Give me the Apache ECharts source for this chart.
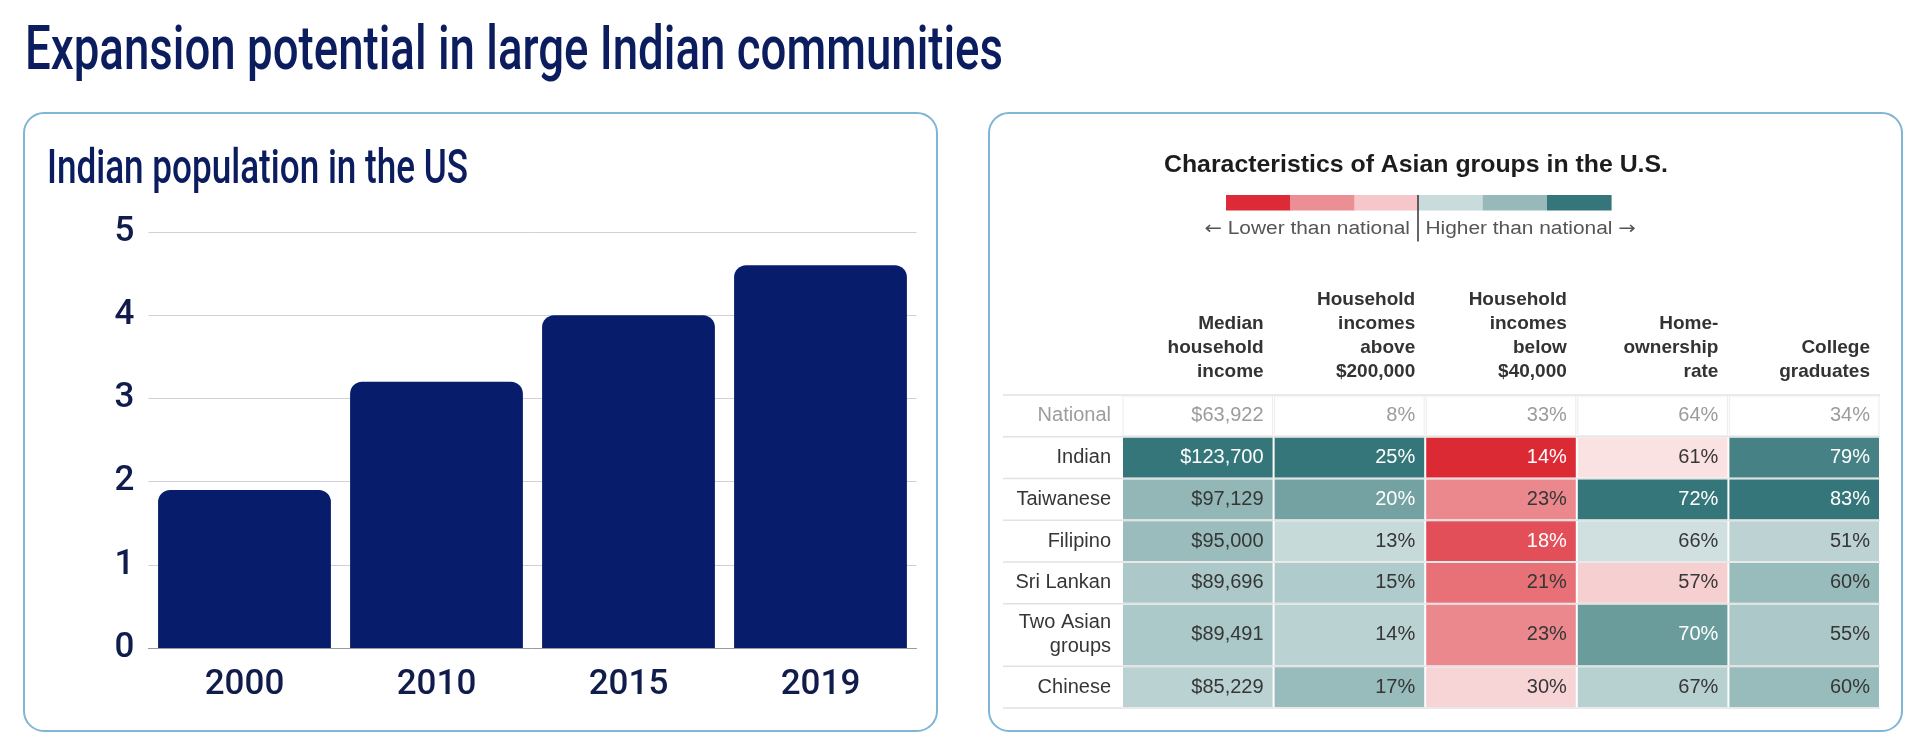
<!DOCTYPE html>
<html>
<head>
<meta charset="utf-8">
<title>Expansion potential in large Indian communities</title>
<script src="https://cdn.jsdelivr.net/npm/echarts@6/dist/echarts.min.js"></script>
<style>
  html, body { margin: 0; padding: 0; background: #fff; }
  #chart { width: 1920px; height: 748px; }
</style>
</head>
<body>
<div id="chart"></div>
<script>
// left panel: Indian population in the US (millions)
const years = ['2000', '2010', '2015', '2019'];
const indianPopulation = [1.9, 3.2, 4.0, 4.6];

// right panel: characteristics of Asian groups
const columnHeaders = [
  'Median\nhousehold\nincome',
  'Household\nincomes\nabove\n$200,000',
  'Household\nincomes\nbelow\n$40,000',
  'Home-\nownership\nrate',
  'College\ngraduates'
];
const groups = ['National', 'Indian', 'Taiwanese', 'Filipino', 'Sri Lankan', 'Two Asian\ngroups', 'Chinese'];
const medianIncome = [63922, 123700, 97129, 95000, 89696, 89491, 85229];
const incomeAbove200k = [8, 25, 20, 13, 15, 14, 17];
const incomeBelow40k = [33, 14, 23, 18, 21, 23, 30];
const homeOwnership = [64, 61, 72, 66, 57, 70, 67];
const collegeGrads = [34, 79, 83, 51, 60, 55, 60];

const tableColumns = [medianIncome, incomeAbove200k, incomeBelow40k, homeOwnership, collegeGrads];

const NAVY = '#0b1d5e';
const HEAVY = "Roboto, 'DejaVu Sans Condensed', sans-serif";
const SANS = "'Liberation Sans', Arial, sans-serif";
const scaleColors = ['#dc2a35', '#e4565f', '#ec8e94', '#f4c4c7', '#fdf0f1', '#d0e0e0', '#9ebfbf', '#6b9c9c', '#34767a'];
const legendColors = ['#dc2a37', '#ec8f95', '#f6c6ca', '#c9dcdc', '#97b9ba', '#35767a'];

const measureCtx = document.createElement('canvas').getContext('2d');
function fitScale(text, font, width) {
  measureCtx.font = font;
  return width / measureCtx.measureText(text).width;
}

function formatCell(col, v) {
  return col === 0 ? '$' + v.toLocaleString('en-US') : v + '%';
}

// relative gap to the national figure, scaled to [-1, 1]
const allRel = [];
tableColumns.forEach(arr => arr.slice(1).forEach(v => allRel.push((v - arr[0]) / arr[0])));
const maxNeg = Math.abs(Math.min(...allRel));
function cellScore(col, row) {
  const arr = tableColumns[col];
  const nat = arr[0];
  const rel = (arr[row] - nat) / nat;
  if (rel >= 0) {
    const maxPos = Math.max(...arr.slice(1).map(v => (v - nat) / nat));
    return rel / maxPos;
  }
  return rel / maxNeg;
}

// row extents (two-line labels get a taller row)
const rowStart = [];
const rowEnd = [];
let acc = 0;
groups.forEach((g, i) => {
  const lines = g.split('\n').length;
  rowStart[i] = acc;
  acc += 1 + 0.5 * (lines - 1);
  rowEnd[i] = acc;
});
const tableUnits = acc;

const cellData = [];
groups.forEach((g, r) => {
  tableColumns.forEach((arr, c) => {
    cellData.push([c, rowStart[r], rowEnd[r], r === 0 ? 0 : cellScore(c, r), r]);
  });
});
const labelData = groups.map((g, r) => [0, rowStart[r], rowEnd[r], r]);
const headerData = columnHeaders.map((h, c) => [c, 0]);

function renderCell(params, api) {
  const col = api.value(0);
  const row = api.value(4);
  const score = api.value(3);
  const p0 = api.coord([col, api.value(1)]);
  const p1 = api.coord([col + 1, api.value(2)]);
  const national = row === 0;
  let textColor = '#363636';
  if (national) textColor = '#9c9c9c';
  else if (score > 0.65 || score < -0.7) textColor = '#ffffff';
  return {
    type: 'group',
    children: [{
      type: 'rect',
      shape: { x: p0[0] + 1, y: p0[1] + 1, width: p1[0] - p0[0] - 2, height: p1[1] - p0[1] - 2 },
      style: national ? { fill: '#ffffff', stroke: '#ececec', lineWidth: 1 } : { fill: api.visual('color') }
    }, {
      type: 'text',
      style: {
        text: formatCell(col, tableColumns[col][row]),
        x: p1[0] - 10,
        y: (p0[1] + p1[1]) / 2,
        align: 'right',
        verticalAlign: 'middle',
        fill: textColor,
        font: '20px ' + SANS
      }
    }]
  };
}

function renderRowLabel(params, api) {
  const row = api.value(3);
  const p0 = api.coord([0, api.value(1)]);
  const p1 = api.coord([tableColumns.length, api.value(2)]);
  const left = p0[0] - 119;
  const children = [{
    type: 'line',
    shape: { x1: left, y1: p1[1], x2: p1[0], y2: p1[1] },
    style: { stroke: '#e2e2e2', lineWidth: 1.5 }
  }, {
    type: 'text',
    style: {
      text: groups[row],
      x: p0[0] - 11,
      y: (p0[1] + p1[1]) / 2,
      align: 'right',
      verticalAlign: 'middle',
      lineHeight: 24,
      fill: row === 0 ? '#9c9c9c' : '#363636',
      font: '20px ' + SANS
    }
  }];
  if (row === 0) {
    children.push({
      type: 'line',
      shape: { x1: left, y1: p0[1], x2: p1[0], y2: p0[1] },
      style: { stroke: '#e2e2e2', lineWidth: 1.5 }
    });
  }
  return { type: 'group', children };
}

function renderHeader(params, api) {
  const col = api.value(0);
  const p0 = api.coord([col, 0]);
  const p1 = api.coord([col + 1, 0]);
  return {
    type: 'text',
    style: {
      text: columnHeaders[col],
      x: p1[0] - 10,
      y: p0[1] - 11,
      align: 'right',
      verticalAlign: 'bottom',
      lineHeight: 24,
      fill: '#333333',
      font: 'bold 19px ' + SANS
    }
  };
}

const mainTitle = 'Expansion potential in large Indian communities';
const mainFont = '500 62px ' + HEAVY;
const subTitle = 'Indian population in the US';
const subFont = '500 48px ' + HEAVY;
const tableTitle = 'Characteristics of Asian groups in the U.S.';
const tableTitleFont = 'bold 24px ' + SANS;
const legendFont = '18px ' + SANS;
const arrowFont = "18px 'DejaVu Sans', sans-serif";

const graphics = [
  { type: 'rect', shape: { x: 24, y: 113, width: 913, height: 618, r: 20 }, style: { fill: '#fff', stroke: '#7fb5d5', lineWidth: 2 }, z: -10 },
  { type: 'rect', shape: { x: 989, y: 113, width: 913, height: 618, r: 20 }, style: { fill: '#fff', stroke: '#7fb5d5', lineWidth: 2 }, z: -10 },
  { type: 'text', x: 25, y: 53, scaleX: fitScale(mainTitle, mainFont, 978),
    style: { text: mainTitle, font: mainFont, fill: NAVY, align: 'left', verticalAlign: 'middle' } },
  { type: 'text', x: 47, y: 171, scaleX: fitScale(subTitle, subFont, 421),
    style: { text: subTitle, font: subFont, fill: NAVY, align: 'left', verticalAlign: 'middle' } },
  { type: 'text', x: 1164, y: 165.8, scaleX: fitScale(tableTitle, tableTitleFont, 504),
    style: { text: tableTitle, font: tableTitleFont, fill: '#1c1c1c', align: 'left', verticalAlign: 'middle' } }
];
legendColors.forEach((c, i) => {
  graphics.push({ type: 'rect', shape: { x: 1226 + i * 64.2, y: 195, width: 64.6, height: 15.5 }, style: { fill: c } });
});
const legendRich = { a: { font: arrowFont, fill: '#555' }, t: { font: legendFont, fill: '#555' } };
graphics.push(
  { type: 'line', shape: { x1: 1418, y1: 195, x2: 1418, y2: 241.5 }, style: { stroke: '#333', lineWidth: 1.5 } },
  { type: 'text', x: 1410, y: 229.5, scaleX: 1.16,
    style: { text: '{a|\u2190} {t|Lower than national}', rich: legendRich, font: legendFont, fill: '#555', align: 'right', verticalAlign: 'middle' } },
  { type: 'text', x: 1425.5, y: 229.5, scaleX: 1.16,
    style: { text: '{t|Higher than national} {a|\u2192}', rich: legendRich, font: legendFont, fill: '#555', align: 'left', verticalAlign: 'middle' } }
);

const chart = echarts.init(document.getElementById('chart'));
chart.setOption({
  animation: false,
  backgroundColor: '#fff',
  graphic: graphics,
  grid: [
    { left: 148.5, top: 232, width: 768, height: 416 },
    { left: 1122, top: 395, width: 758, height: 313 }
  ],
  xAxis: [{
    type: 'category',
    gridIndex: 0,
    data: years,
    axisTick: { show: false },
    axisLine: { lineStyle: { color: '#9a9a9a', width: 1 } },
    axisLabel: { color: '#101c4c', fontSize: 35, fontWeight: 500, fontFamily: HEAVY, margin: 20 }
  }, {
    type: 'value', gridIndex: 1, min: 0, max: tableColumns.length, show: false
  }],
  yAxis: [{
    type: 'value',
    gridIndex: 0,
    min: 0,
    max: 5,
    interval: 1,
    axisLine: { show: false },
    axisTick: { show: false },
    splitLine: { lineStyle: { color: '#cdd1da', width: 1 } },
    axisLabel: { color: '#101c4c', fontSize: 35, fontWeight: 500, fontFamily: HEAVY, margin: 14 }
  }, {
    type: 'value', gridIndex: 1, min: 0, max: tableUnits, inverse: true, show: false
  }],
  visualMap: {
    type: 'continuous',
    show: false,
    seriesIndex: 1,
    dimension: 3,
    min: -1,
    max: 1,
    inRange: { color: scaleColors }
  },
  series: [{
    type: 'bar',
    xAxisIndex: 0,
    yAxisIndex: 0,
    data: indianPopulation,
    barWidth: '90%',
    itemStyle: { color: '#071c6b', borderRadius: [12, 12, 0, 0] }
  }, {
    type: 'custom',
    xAxisIndex: 1,
    yAxisIndex: 1,
    data: cellData,
    encode: { x: 0, y: [1, 2] },
    renderItem: renderCell,
    z: 3
  }, {
    type: 'custom',
    xAxisIndex: 1,
    yAxisIndex: 1,
    data: labelData,
    encode: { x: 0, y: [1, 2] },
    renderItem: renderRowLabel,
    z: 2
  }, {
    type: 'custom',
    xAxisIndex: 1,
    yAxisIndex: 1,
    data: headerData,
    encode: { x: 0, y: 1 },
    renderItem: renderHeader,
    z: 2
  }]
});
</script>
</body>
</html>
